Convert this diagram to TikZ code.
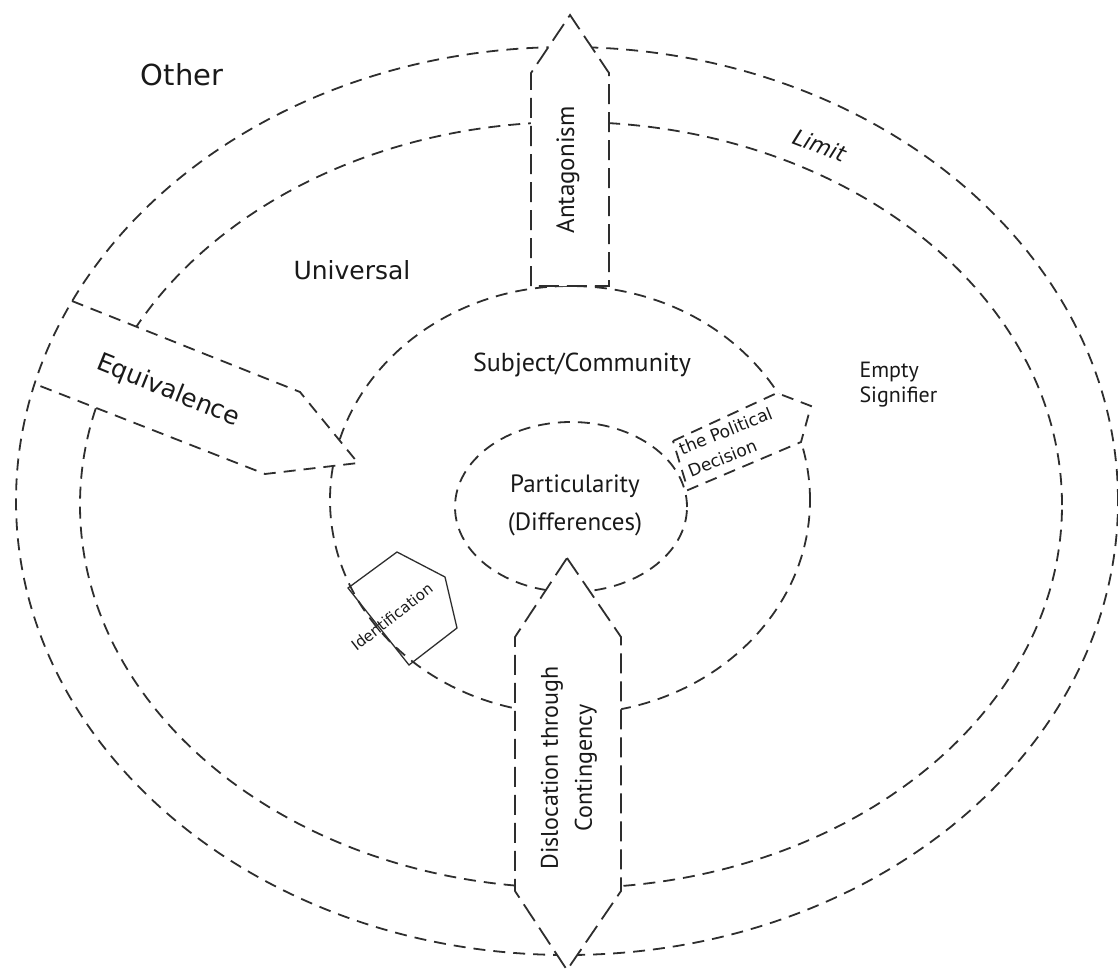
\documentclass[tikz,border=0pt]{standalone}
\usepackage{fontspec}
\setmainfont{DejaVu Sans}
\newfontfamily\narrowfont{PT Sans}
\usetikzlibrary{positioning}

\definecolor{inkgray}{HTML}{2E2E2E}

\tikzset{
  ring/.style={draw=inkgray, line width=1.8pt, dash pattern=on 12pt off 8pt},
  band/.style={ring, fill=white},
  longband/.style={draw=inkgray, line width=1.8pt, dash pattern=on 20pt off 8pt, fill=white},
  wide/.style 2 args={font=\fontsize{#1}{#2}\selectfont, text=black!90},
  narrow/.style 2 args={font=\narrowfont\fontsize{#1}{#2}\selectfont, text=black!90},
}

\begin{document}
\begin{tikzpicture}[x=1pt,y=-1pt]
    \useasboundingbox (0,0) rectangle (1118,971);

    % rings behind the bands
    \draw[ring] (571,505) ellipse [x radius=491pt, y radius=383pt];
    \draw[ring] (570,500) ellipse [x radius=240pt, y radius=214pt];
    \draw[ring] (571,507) ellipse [x radius=116pt, y radius=85pt];

    % Equivalence band, open at the outer ring
    \fill[white] (72,301) -- (300,392) -- (358,463) -- (265,474) -- (35,384) -- cycle;
    \draw[ring] (72,301) -- (300,392) -- (358,463) -- (265,474) -- (35,384);

    % outer ring
    \draw[ring] (567,501) ellipse [x radius=551pt, y radius=454pt];

    % Antagonism and Dislocation bands
    \path[longband] (531,286) -- (531,73) -- (570,15) -- (609,73) -- (609,286) -- cycle;
    \path[longband] (567,558) -- (621,637) -- (621,891) -- (567,970) -- (515,891) -- (515,637) -- cycle;

    % the Political Decision band
    \path[band] (673,441) -- (777,393) -- (811,406) -- (801,442) -- (688,490) -- cycle;

    % Identification pentagon
    \draw[inkgray, line width=1.3pt, line join=miter] (348,588) -- (397,552) -- (445,577) -- (457,628) -- (409,665) -- cycle;

    \node[wide={29}{34}] (other) at (182,75) {Other};
    \node[wide={25}{30}] (universal) at (352,270) {Universal};
    \node[wide={25}{30}, rotate=-22] (equivalence) at (168,391) {Equivalence};
    \node[wide={22}{26}, rotate=-21] (limit) at (820,145) {\itshape Limit};
    \node[narrow={22}{25}, align=left, anchor=west] (empty) at (856,385) {Empty\\Signifier};
    \node[narrow={25}{29}, rotate=90] (antagonism) at (568,170) {Antagonism};
    \node[narrow={26}{30}] (subject) at (582,365) {Subject/Community};
    \node[narrow={25}{38}, align=center] (particularity) at (575,505) {Particularity\\(Differences)};
    \node[wide={17}{24}, rotate=22, align=left] (political) at (730,442) {the Political\\Decision};
    \node[wide={15}{18}, rotate=38] (identification) at (392,617) {Identification};
    \node[narrow={24}{34}, rotate=90, align=center] (dislocation) at (569,768) {Dislocation through\\Contingency};
\end{tikzpicture}
\end{document}
